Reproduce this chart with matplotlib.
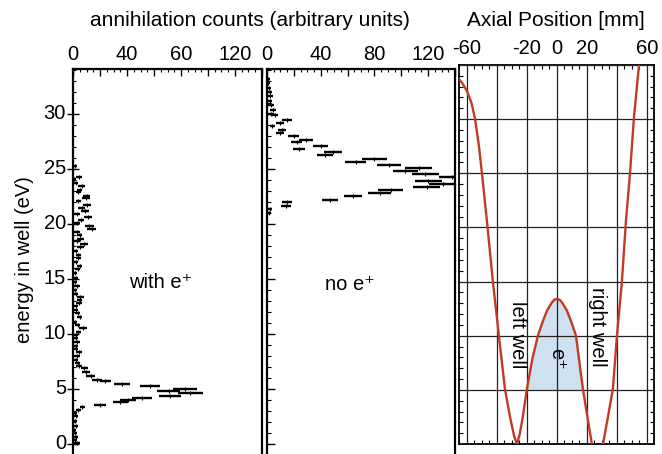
"""Annihilation counts vs energy in well, with the double-well potential."""
import matplotlib
matplotlib.use("Agg")
import matplotlib.pyplot as plt
import matplotlib.transforms as mtransforms
import numpy as np
from matplotlib.ticker import FixedLocator, FixedFormatter, MultipleLocator, NullFormatter

plt.rcParams["font.family"] = ["Liberation Sans", "DejaVu Sans"]

# --- panel 1: with e+ ---
with_E = [25.3, 24.3, 24.1, 23.7, 23.45, 23.1, 22.9, 22.5, 22.35, 22.1, 21.75, 21.45,
          21.2, 20.9, 20.6, 20.4, 20.1, 19.8, 19.5, 19.3, 19.0, 18.65, 18.45, 18.2,
          17.9, 17.55, 17.2, 16.9, 16.55, 16.2, 15.9, 15.5, 15.1, 14.7, 14.35, 14.0,
          13.65, 13.35, 13.1, 12.8, 12.5, 12.2, 11.9, 11.5, 11.1, 10.8, 10.5, 10.2,
          9.9, 9.6, 9.3, 8.9, 8.6, 8.4, 8.0, 7.6, 7.35, 7.1, 6.9, 6.5, 6.2, 5.8, 5.7,
          5.45, 5.25, 5.0, 4.8, 4.6, 4.35, 4.2, 4.0, 3.8, 3.55, 3.35, 3.1, 2.8, 2.5,
          2.1, 1.6, 1.3, 1.0, 0.6, 0.4, 0.1]
with_counts = [1.5, 4.5, 1, 2, 6.5, 5, 4, 10, 9.5, 4, 10.5, 6.5,
               9, 3, 11, 6, 3, 12, 14, 3, 5, 5.5, 3, 8,
               5.5, 2.5, 4, 4, 2, 5, 3.5, 1.5, 2, 1.5, 3, 1.5,
               2, 5.5, 5, 4.5, 2, 2, 3.5, 5, 1.5, 3.5, 7.5, 4,
               2, 2.5, 3, 2, 2.5, 4.5, 3, 2.5, 3.5, 4.5, 8.5, 9.5, 13, 18, 24,
               36, 57, 83, 71, 87, 72, 51, 41, 35, 20, 7, 4, 1.5, 2,
               1.5, 2, 1, 1.5, 2, 1.5, 3]
with_err = [1.5, 2, 1.5, 1.5, 2.5, 2, 2, 2.8, 2.8, 2, 2.8, 2.5,
            2.8, 2, 3, 2.5, 2, 3.3, 3.3, 2, 2, 2.3, 2, 2.8,
            2.3, 1.5, 2, 2, 1.5, 2, 2, 1.5, 1.5, 1.5, 2, 1.5,
            1.5, 2.3, 2, 2, 1.5, 1.5, 2, 2, 1.5, 2, 2.8, 2,
            1.5, 1.5, 2, 1.5, 1.5, 2, 2, 1.5, 2, 2, 2.8, 2.8, 3.3, 3.7, 4,
            6, 7.5, 9, 8.5, 9, 8, 7.5, 6, 5.5, 4.5, 2, 2, 1.5, 1.5,
            1.5, 1.5, 1.5, 1.5, 1.5, 1.5, 2]

# --- panel 2: no e+ ---
no_E = [33.2, 32.8, 32.4, 32.0, 31.6, 31.2, 30.8, 30.4, 30.0, 29.9, 29.45, 29.2,
        28.9, 28.5, 28.3, 28.0, 27.6, 27.45, 27.1, 26.8, 26.5, 26.3, 25.9, 25.6,
        25.4, 25.1, 24.8, 24.5, 24.3, 23.9, 23.6, 23.35, 23.1, 22.8, 22.55, 22.2,
        22.0, 21.65, 21.4, 21.0]
no_counts = [1, 1, 1.5, 2, 2.5, 2, 3, 4.5, 3, 6, 15, 10,
             4, 11, 10, 20, 29, 22, 40, 24, 49, 43, 80, 66,
             91, 113, 103, 118, 138, 120, 131, 119, 92, 84, 64, 47,
             15, 14, 2, 1.5]
no_err = [1.5, 1.5, 1.5, 1.5, 2, 1.5, 2, 2, 2, 2.5, 3.7, 3,
          2, 3, 3, 4, 5, 4, 5.5, 4.5, 6.5, 6, 9, 8,
          9, 10, 9.5, 10, 10, 10, 10, 10, 9, 8.5, 7, 6,
          3.7, 3.5, 1.5, 1.5]

count_ticks = [0, 40, 80, 120]
count_labels_with = ["0", "40", "60", "120"]
count_labels_no = ["0", "40", "80", "120"]
energy_ticks = [0, 5, 10, 15, 20, 25, 30]

# --- panel 3: potential along the axis ---
pos_mm = [-65.3, -63, -60, -57, -54.7, -52, -50, -46.7, -42.7, -38.7, -34.7, -31,
          -28.5, -26.7, -25, -23, -20, -16.5, -12.7, -9.5, -6.7, -3.5, -1.7, 0, 1.7, 3.5,
          6.7, 9.5, 12.7, 15, 17.3, 20.3, 23.3, 27, 30.7, 34, 37.3, 40, 43.3, 46,
          48.7, 51.3, 54.7]
potential = [33.7, 33.3, 32.6, 31.5, 30.1, 27.5, 25.0, 20.6, 15.0, 10.0, 5.1, 2.3,
             0.7, 0.0, 0.8, 2.3, 5.1, 7.8, 10.0, 11.3, 12.3, 13.05, 13.33, 13.4, 13.33, 13.05,
             12.3, 11.3, 10.0, 7.5, 5.1, 2.5, 0.0, -0.8, 0.0, 2.5, 5.1, 10.0, 15.0, 20.6,
             25.0, 30.1, 35.0]
axial_labels = ["-60", "", "-20", "0", "20", "", "60"]

W, H = 662, 454
fig = plt.figure(figsize=(W / 100, H / 100), dpi=100)


def px_axes(left, right, top, bottom):
    return fig.add_axes([left / W, 1 - bottom / H, (right - left) / W, (bottom - top) / H])


FS = 14.5
ax1 = px_axes(73, 262, 69, 454)
ax2 = px_axes(267, 455, 69, 454)
ax3 = px_axes(459, 654, 65, 444)

lift = mtransforms.ScaledTranslation(0, 3.5 / 72, fig.dpi_scale_trans)
for ax, E, c, e, labels in [(ax1, with_E, with_counts, with_err, count_labels_with),
                            (ax2, no_E, no_counts, no_err, count_labels_no)]:
    ax.errorbar(c, E, xerr=e, fmt="|", color="k", ms=3, mew=0.8,
                ecolor="k", elinewidth=1.7, capsize=0)
    ax.set_xlim(0, 140)
    ax.set_ylim(-0.91, 34.09)
    ax.xaxis.tick_top()
    ax.xaxis.set_major_locator(MultipleLocator(20))
    ax.xaxis.set_minor_locator(MultipleLocator(5))
    ax.xaxis.set_major_formatter(NullFormatter())
    ax.tick_params(axis="x", which="major", direction="in", length=5, width=1)
    ax.tick_params(axis="x", which="minor", direction="in", length=2.5, width=0.8)
    ax.yaxis.set_major_locator(FixedLocator(energy_ticks))
    ax.yaxis.set_minor_locator(MultipleLocator(1))
    ax.spines["bottom"].set_visible(False)
    for s in ("top", "left", "right"):
        ax.spines[s].set_linewidth(1.6)
    for v, lab in zip(count_ticks, labels):
        ax.text(v, 1.0, lab, transform=ax.get_xaxis_transform() + lift,
                ha="center", va="bottom", fontsize=FS)

ax1.tick_params(axis="y", which="major", direction="inout", length=8, width=1,
                labelsize=FS, pad=1)
ax1.tick_params(axis="y", which="minor", direction="in", length=2.5, width=0.8)
ax1.set_yticks(energy_ticks, [str(v) for v in energy_ticks], va="center")
ax2.tick_params(axis="y", which="major", direction="in", length=6, width=1, labelleft=False)
ax2.tick_params(axis="y", which="minor", direction="in", length=3, width=0.8)

fig.text(25 / W, 1 - 260 / H, "energy in well (eV)", rotation=90, ha="center",
         va="center", fontsize=FS)
fig.text(161 / W, 1 - 282 / H, "with e\u207a", ha="center", va="center", fontsize=FS)
fig.text(350 / W, 1 - 284 / H, "no e\u207a", ha="center", va="center", fontsize=FS)
fig.text(250 / W, 1 - 20 / H, "annihilation counts (arbitrary units)", ha="center",
         va="center", fontsize=15)
fig.text(556 / W, 1 - 20 / H, "Axial Position [mm]", ha="center", va="center", fontsize=15)

# panel 3
pos = np.array(pos_mm)
pot = np.array(potential)
ax3.fill_between(pos, 5, pot, where=(np.abs(pos) < 22) & (pot >= 5), interpolate=True,
                 color="#cfe0f1", lw=0, zorder=1)
ax3.plot(pos, pot, color="#c23a26", lw=1.7, zorder=3, solid_joinstyle="round")
ax3.set_xlim(-65.3, 64.7)
ax3.set_ylim(0, 35)
ax3.xaxis.set_major_locator(FixedLocator([-60, -40, -20, 0, 20, 40, 60]))
ax3.xaxis.set_major_formatter(FixedFormatter(axial_labels))
ax3.xaxis.set_minor_locator(MultipleLocator(5))
ax3.yaxis.set_major_locator(MultipleLocator(5))
ax3.yaxis.set_minor_locator(MultipleLocator(1))
ax3.grid(True, which="major", color="#222222", lw=0.9, zorder=2)
ax3.set_axisbelow(False)
ax3.tick_params(axis="both", which="both", direction="in", top=True, bottom=True,
                left=True, right=True, labelbottom=False, labeltop=True, labelleft=False)
ax3.tick_params(axis="both", which="major", length=0, labelsize=FS, pad=5)
ax3.tick_params(axis="both", which="minor", length=3, width=0.8)
for s in ax3.spines.values():
    s.set_linewidth(1.3)

ax3.text(-26, 10.1, "left well", rotation=270, ha="center", va="center", fontsize=FS)
ax3.text(26.7, 10.8, "right well", rotation=270, ha="center", va="center", fontsize=FS)
ax3.text(0, 7.9, "e\u207a", rotation=270, ha="center", va="center", fontsize=FS)

fig.savefig("out.png", dpi=100)
